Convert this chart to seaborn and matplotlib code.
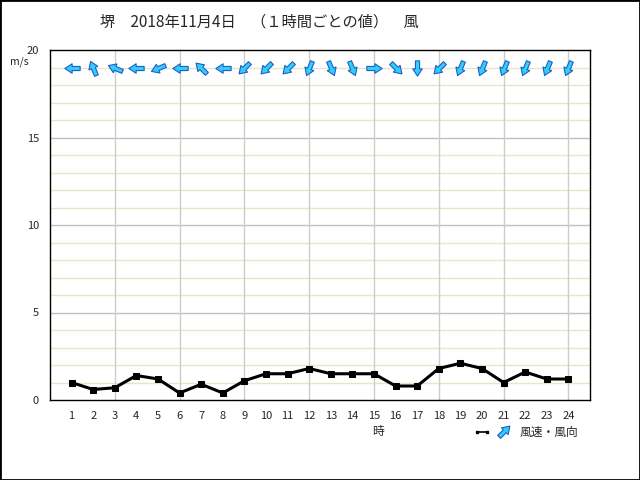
import numpy as np
import pandas as pd
import seaborn as sns
import matplotlib.pyplot as plt
from matplotlib.markers import MarkerStyle
from matplotlib.path import Path
from matplotlib.transforms import Affine2D
from matplotlib.patches import Rectangle

# data
hours = list(range(1, 25))
speed = [1.0, 0.6, 0.7, 1.4, 1.2, 0.4, 0.9, 0.4, 1.1, 1.5, 1.5, 1.8,
         1.5, 1.5, 1.5, 0.8, 0.8, 1.8, 2.1, 1.8, 1.0, 1.6, 1.2, 1.2]
direction = ['E', 'SSE', 'ESE', 'E', 'ENE', 'E', 'SE', 'E', 'NE', 'NE', 'NE', 'NNE',
             'NNW', 'NNW', 'W', 'NW', 'N', 'NE', 'NNE', 'NNE', 'NNE', 'NNE', 'NNE', 'NNE']
compass = ['N', 'NNE', 'NE', 'ENE', 'E', 'ESE', 'SE', 'SSE',
           'S', 'SSW', 'SW', 'WSW', 'W', 'WNW', 'NW', 'NNW']

df = pd.DataFrame({'hour': hours, 'speed': speed})

sns.set_style('white')
plt.rcParams['font.family'] = ['Noto Sans CJK JP', 'DejaVu Sans']

fig = plt.figure(figsize=(6.4, 4.8), dpi=100)
ax = fig.add_axes([50 / 640, 80 / 480, 540 / 640, 350 / 480])

# block arrow pointing along +x
verts = [(-1, -0.27), (0.05, -0.27), (0.05, -0.62), (1, 0), (0.05, 0.62), (0.05, 0.27), (-1, 0.27), (-1, -0.27)]
codes = [Path.MOVETO] + [Path.LINETO] * 6 + [Path.CLOSEPOLY]
arrow_path = Path(verts, codes)


def arrow_marker(angle):
    return MarkerStyle(arrow_path, transform=Affine2D().rotate_deg(angle))


# grid
ax.set_xlim(0, 25)
ax.set_ylim(0, 20)
ax.set_xticks(hours)
ax.set_yticks([0, 5, 10, 15, 20])
for y in range(1, 20):
    ax.axhline(y, color='#c0c0c0' if y % 5 == 0 else '#ece3cc', lw=1, zorder=0)
for x in range(3, 25, 3):
    ax.axvline(x, color='#cccccc', lw=1, zorder=0)

sns.lineplot(data=df, x='hour', y='speed', ax=ax, color='black', lw=2.2,
             marker='s', markersize=4.8, markeredgecolor='black', zorder=3)

# wind direction arrows (pointing where the wind blows to)
for h, d in zip(hours, direction):
    bearing = compass.index(d) * 22.5
    ang = -90 - bearing
    ax.plot(h, 19, marker=arrow_marker(ang), markersize=11, color='#33ccff',
            markeredgecolor='#1f5fbf', markeredgewidth=0.8, linestyle='none', zorder=4)

for s in ax.spines.values():
    s.set_color('black')
    s.set_linewidth(1)
ax.tick_params(length=0, labelsize=8, pad=8)
ax.set_xlabel('')
ax.set_ylabel('')

fig.text(100 / 640, 1 - 22 / 480, '堺　2018年11月4日　（１時間ごとの値）　風', fontsize=11, va='center')
fig.text(10 / 640, 1 - 62 / 480, 'm/s', fontsize=7.5, va='center')
fig.text(378 / 640, 1 - 432 / 480, '時', fontsize=8.5, va='center', ha='center')
fig.text(520 / 640, 1 - 432 / 480, '風速・風向', fontsize=8.5, va='center')
fig.lines.append(plt.Line2D([477 / 640, 487 / 640], [1 - 432 / 480] * 2, transform=fig.transFigure,
                            color='black', lw=1.2, marker='s', markersize=2))
fig.lines.append(plt.Line2D([504 / 640], [1 - 431 / 480], transform=fig.transFigure,
                            marker=arrow_marker(45), markersize=11, color='#33ccff',
                            markeredgecolor='#1f5fbf', markeredgewidth=0.8, linestyle='none'))

fig.patches.append(Rectangle((0, 0), 1, 1, transform=fig.transFigure, fill=False,
                             edgecolor='black', lw=2))

plt.savefig('out.png', dpi=100)
plt.close()
